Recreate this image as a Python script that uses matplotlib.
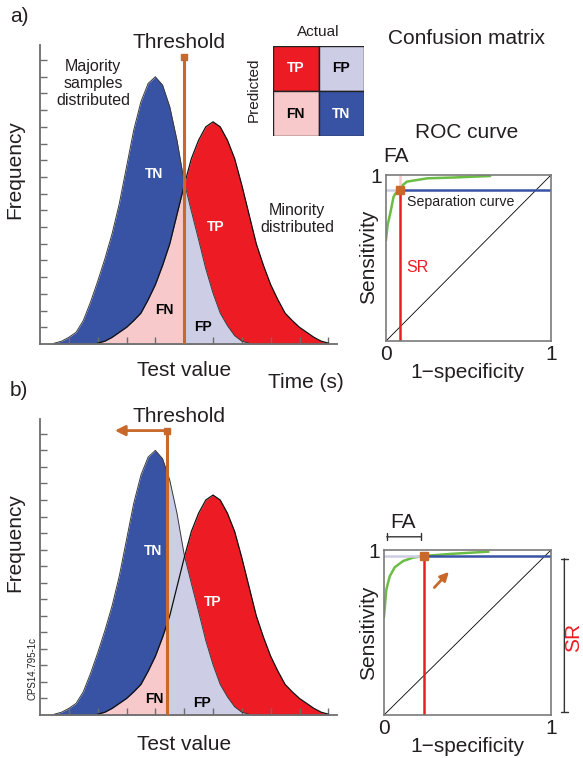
import numpy as np
import matplotlib
matplotlib.use("Agg")
import matplotlib.pyplot as plt
from matplotlib.patches import Rectangle

plt.rcParams['font.family'] = ['Liberation Sans', 'DejaVu Sans']

W, H = 583, 758
BLUE = '#3853a4'
RED = '#ed1c24'
PINK = '#f7c9cb'
LAV = '#cdcde6'
ORANGE = '#c8692b'
GREEN = '#6cbd45'
GREY = '#6d6d6d'

# distributions, test value 0..10 in steps of 0.25
test_value = np.linspace(0, 10, 41)
majority = [0, 0, 0.05, 0.17, 0.4, 0.7, 1.4, 2.5, 3.75, 5.1, 6.6, 8.4, 10.6, 12.8, 14.5, 15.6,
            16.0, 15.5, 14.2, 12.2, 9.7, 7.95, 6.25, 4.5, 3.05, 1.85, 1.1, 0.5, 0.17, 0.05,
            0, 0, 0, 0, 0, 0, 0, 0, 0, 0, 0]
minority = [0, 0, 0, 0, 0, 0, 0, 0, 0.05, 0.17, 0.4, 0.7, 1.0, 1.4, 1.85, 2.65, 3.55, 4.7,
            6.0, 7.75, 9.5, 11.1, 12.2, 13.0, 13.3, 13.0, 12.2, 11.1, 9.5, 7.75, 6.0, 4.7,
            3.55, 2.65, 1.85, 1.4, 1.0, 0.7, 0.4, 0.17, 0.05]
thresholds = [5.0, 4.4]
threshold_top = 17.2

# ROC curves (1-specificity, sensitivity)
roc_a_fpr = [0, 0.01, 0.026, 0.046, 0.077, 0.127, 0.25, 0.41, 0.63]
roc_a_tpr = [0.61, 0.70, 0.77, 0.87, 0.92, 0.96, 0.98, 0.985, 0.994]
roc_b_fpr = [0, 0.014, 0.034, 0.064, 0.114, 0.174, 0.244, 0.394, 0.624]
roc_b_tpr = [0.596, 0.76, 0.84, 0.895, 0.933, 0.954, 0.964, 0.976, 0.99]
sep_points = [(0.085, 0.91), (0.238, 0.964)]

# confusion matrix
cm_labels = [['TP', 'FP'], ['FN', 'TN']]
cm_colors = [[RED, LAV], [PINK, BLUE]]
cm_text = [['white', 'black'], ['black', 'white']]


def box(x0, y0, x1, y1):
    # pixel box (top-left origin) -> figure fraction rect
    return [x0 / W, 1 - y1 / H, (x1 - x0) / W, (y1 - y0) / H]


fig = plt.figure(figsize=(W / 100, H / 100), dpi=100)
ov = fig.add_axes([0, 0, 1, 1], zorder=10)
ov.set_xlim(0, W)
ov.set_ylim(H, 0)
ov.set_axis_off()


def label(x, y, s, size=15, **kw):
    ov.text(x, y, s, fontsize=size, ha=kw.pop('ha', 'center'), va=kw.pop('va', 'center'),
            color=kw.pop('color', '#231f20'), **kw)


def draw_dist(ax, t, arrow):
    x = test_value
    maj = np.array(majority)
    mino = np.array(minority)
    clips = [Rectangle((-1, -1), t + 1, 40, transform=ax.transData),
             Rectangle((-1, -1), t + 1, 40, transform=ax.transData),
             Rectangle((t, -1), 20, 40, transform=ax.transData),
             Rectangle((t, -1), 20, 40, transform=ax.transData)]
    for (yv, c), clip in zip([(maj, BLUE), (mino, PINK), (mino, RED), (maj, LAV)], clips):
        f = ax.fill_between(x, 0, yv, color=c, lw=0)
        f.set_clip_path(clip)
    ax.plot(x, np.ma.masked_where(maj <= 0, maj), color='#3a3a3a', lw=0.7)
    ax.plot(x, np.ma.masked_where(mino <= 0, mino), color='#111111', lw=0.9)
    ax.plot([t, t], [0, threshold_top], color=ORANGE, lw=2.2, solid_capstyle='butt', zorder=5)
    ax.plot(t, threshold_top, 's', color=ORANGE, ms=5, zorder=6)
    if arrow:
        ax.annotate('', xy=(2.5, threshold_top), xytext=(t, threshold_top),
                    arrowprops=dict(arrowstyle='-|>,head_length=0.6,head_width=0.3',
                                    color=ORANGE, lw=2), zorder=6)
    ax.set_xlim(0, 10.3)
    ax.set_ylim(0, 17.9)
    ax.set_xticks(range(1, 11))
    ax.set_yticks(range(1, 18))
    ax.tick_params(direction='in', length=5, width=1, color=GREY,
                   labelbottom=False, labelleft=False)
    for s in ['top', 'right']:
        ax.spines[s].set_visible(False)
    for s in ['left', 'bottom']:
        ax.spines[s].set_color(GREY)
        ax.spines[s].set_linewidth(1.3)
    ax.set_facecolor('none')


def draw_roc(ax, fpr, tpr, sep, upper_pink):
    sx, sy = sep
    ax.plot([0, 1], [0, 1], color='black', lw=0.6)
    ax.plot(fpr, tpr, color=GREEN, lw=1.8)
    ax.plot([0, sx], [sy, sy], color=LAV, lw=1.8)
    ax.plot([sx, 1], [sy, sy], color=BLUE, lw=1.8)
    ax.plot([sx, sx], [0, sy], color=RED, lw=1.8)
    if upper_pink:
        ax.plot([sx, sx], [sy, 1], color=PINK, lw=1.8)
    ax.plot(sx, sy, 's', color=ORANGE, ms=6, zorder=5)
    ax.set_xlim(0, 1)
    ax.set_ylim(0, 1)
    ax.set_xticks([0, 1])
    ax.set_yticks([1])
    ax.tick_params(length=0, labelsize=15, pad=3, labelcolor='#231f20')
    for s in ax.spines.values():
        s.set_color('#7a7a7a')
        s.set_linewidth(1.2)


# ---- panel a ----
ax_a = fig.add_axes(box(40, 45, 337, 344))
draw_dist(ax_a, thresholds[0], False)
ax_a.text(3.96, 10.2, 'TN', color='white', fontsize=10, fontweight='bold', ha='center', va='center')
ax_a.text(6.08, 7.0, 'TP', color='white', fontsize=10, fontweight='bold', ha='center', va='center')
ax_a.text(4.3, 2.05, 'FN', color='black', fontsize=10, fontweight='bold', ha='center', va='center')
ax_a.text(5.66, 1.02, 'FP', color='black', fontsize=10, fontweight='bold', ha='center', va='center')
ax_a.text(1.84, 15.6, 'Majority\nsamples\ndistributed', fontsize=11.5, ha='center', va='center',
          linespacing=1.15, color='#231f20')
ax_a.text(8.92, 7.5, 'Minority\ndistributed', fontsize=11.5, ha='center', va='center',
          linespacing=1.15, color='#231f20')

# confusion matrix
ax_cm = fig.add_axes(box(273, 46, 364, 136))
for i in range(2):
    for j in range(2):
        ax_cm.add_patch(Rectangle((j, i), 1, 1, facecolor=cm_colors[i][j],
                                  edgecolor='#222222', lw=1))
        ax_cm.text(j + 0.5, i + 0.5, cm_labels[i][j], color=cm_text[i][j],
                   fontsize=10, fontweight='bold', ha='center', va='center')
ax_cm.set_xlim(0, 2)
ax_cm.set_ylim(2, 0)
ax_cm.set_axis_off()

ax_ra = fig.add_axes(box(386, 175, 551, 341))
draw_roc(ax_ra, roc_a_fpr, roc_a_tpr, sep_points[0], True)
ax_ra.text(0.13, 0.84, 'Separation curve', fontsize=10.2, ha='left', va='center', color='#231f20')
ax_ra.text(0.12, 0.44, 'SR', fontsize=11.5, color=RED, ha='left', va='center')

# ---- panel b ----
ax_b = fig.add_axes(box(40, 419, 337, 715))
draw_dist(ax_b, thresholds[1], True)
ax_b.text(3.92, 9.9, 'TN', color='white', fontsize=10, fontweight='bold', ha='center', va='center')
ax_b.text(6.0, 6.85, 'TP', color='white', fontsize=10, fontweight='bold', ha='center', va='center')
ax_b.text(3.96, 0.97, 'FN', color='black', fontsize=10, fontweight='bold', ha='center', va='center')
ax_b.text(5.63, 0.73, 'FP', color='black', fontsize=10, fontweight='bold', ha='center', va='center')

ax_rb = fig.add_axes(box(384, 550, 551, 715))
draw_roc(ax_rb, roc_b_fpr, roc_b_tpr, sep_points[1], False)
sx, sy = sep_points[1]
ax_rb.annotate('', xy=(0.40, 0.88), xytext=(0.29, 0.76),
               arrowprops=dict(arrowstyle='-|>,head_length=0.5,head_width=0.25', color=ORANGE, lw=2))
ax_rb.annotate('', xy=(0, 1.08), xytext=(sx, 1.08), annotation_clip=False,
               arrowprops=dict(arrowstyle='|-|,widthA=0.25,widthB=0.25', color='#333333', lw=1))
ax_rb.annotate('', xy=(1.08, 0), xytext=(1.08, sy), annotation_clip=False,
               arrowprops=dict(arrowstyle='|-|,widthA=0.25,widthB=0.25', color='#333333', lw=1))

# ---- free text ----
label(19, 17, 'a)')
label(19, 391, 'b)')
label(179, 43, 'Threshold')
label(179, 417, 'Threshold')
label(15, 170, 'Frequency', rotation=90)
label(15, 543, 'Frequency', rotation=90)
label(184, 370, 'Test value')
label(184, 745, 'Test value')
label(306, 383, 'Time (s)')
label(318, 32, 'Actual', size=11)
label(254, 90, 'Predicted', size=11, rotation=90)
label(467, 38, 'Confusion matrix')
label(467, 133, 'ROC curve')
label(396, 156, 'FA')
label(403, 522, 'FA')
label(369, 257, 'Sensitivity', rotation=90)
label(369, 633, 'Sensitivity', rotation=90)
label(467, 372, '1\u2212specificity')
label(467, 746, '1\u2212specificity')
label(574, 637, 'SR', size=15, rotation=90, color=RED)
label(33, 669, 'CPS14.795-1c', size=7, rotation=90)

fig.savefig('out.png', dpi=100)
